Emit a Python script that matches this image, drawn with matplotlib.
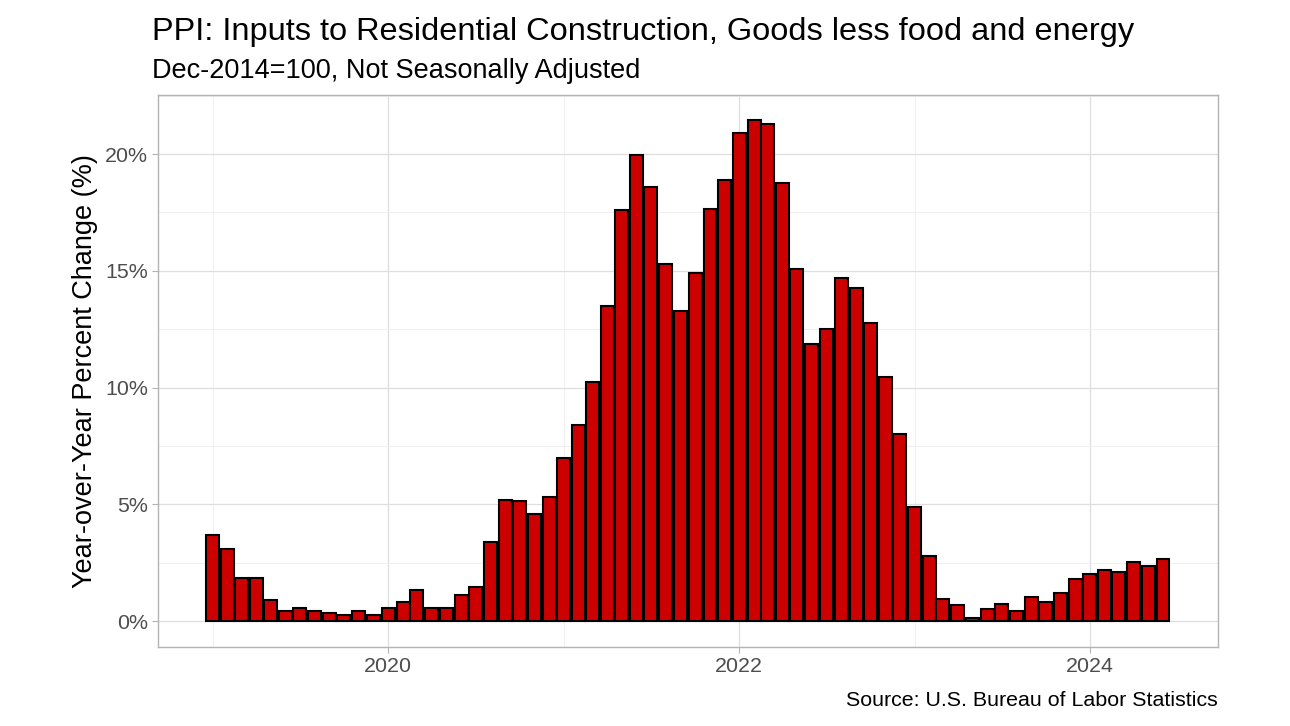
import pandas as pd
import numpy as np
import matplotlib
matplotlib.use("Agg")
import matplotlib.pyplot as plt
import matplotlib.dates as mdates
from matplotlib.ticker import MultipleLocator, FuncFormatter

plt.rcParams['font.family'] = ['Liberation Sans', 'DejaVu Sans']

# monthly year-over-year % change, Jan 2019 .. Jun 2024
months = pd.date_range("2019-01-01", "2024-06-01", freq="MS")
yoy = [3.7, 3.1, 1.85, 1.85, 0.9, 0.45, 0.55, 0.45, 0.35, 0.25, 0.45, 0.25,
       0.55, 0.8, 1.35, 0.55, 0.55, 1.1, 1.45, 3.4, 5.2, 5.15, 4.6, 5.3,
       7.0, 8.4, 10.25, 13.5, 17.6, 19.95, 18.6, 15.3, 13.3, 14.9, 17.65, 18.9,
       20.9, 21.45, 21.3, 18.75, 15.1, 11.85, 12.5, 14.7, 14.25, 12.75, 10.45, 8.0,
       4.9, 2.8, 0.95, 0.7, 0.15, 0.5, 0.75, 0.45, 1.05, 0.8, 1.2, 1.8,
       2.0, 2.2, 2.1, 2.55, 2.35, 2.65]

title = "PPI: Inputs to Residential Construction, Goods less food and energy"
subtitle = "Dec-2014=100, Not Seasonally Adjusted"
ylab = "Year-over-Year Percent Change (%)"
source = "Source: U.S. Bureau of Labor Statistics"

base = 19.5

fig = plt.figure(figsize=(12.9, 7.26), dpi=100)
ax = fig.add_axes([0.1225, 0.1088, 0.8215, 0.7603])

ax.bar(months, yoy, width=27, color="#CD0000", edgecolor="black", linewidth=1.5, zorder=3)

ax.set_xlim(pd.Timestamp("2018-09-09"), pd.Timestamp("2024-09-23"))
ax.set_ylim(-1.11, 22.53)

ax.xaxis.set_major_locator(mdates.YearLocator(2))
ax.xaxis.set_major_formatter(mdates.DateFormatter("%Y"))
ax.xaxis.set_minor_locator(mdates.YearLocator(1))
ax.yaxis.set_major_locator(MultipleLocator(5))
ax.yaxis.set_minor_locator(MultipleLocator(2.5))
ax.yaxis.set_major_formatter(FuncFormatter(lambda v, p: "%d%%" % v))

ax.grid(which="major", color="#dedede", linewidth=0.9, zorder=0)
ax.grid(which="minor", color="#ededed", linewidth=0.6, zorder=0)
for s in ax.spines.values():
    s.set_color("#b3b3b3")
    s.set_linewidth(1.0)
ax.tick_params(which="major", colors="#b3b3b3", labelcolor="#4d4d4d",
               labelsize=base * 0.79, length=4, pad=3)
ax.tick_params(which="minor", length=0)

fig.text(0.0659, 0.489, ylab, fontsize=base, rotation=90, ha="center", va="center")
fig.text(0.1178, 0.9449, title, fontsize=base * 1.2, va="baseline", ha="left")
fig.text(0.1178, 0.8926, subtitle, fontsize=base, va="baseline", ha="left")
fig.text(0.944, 0.0275, source, fontsize=base * 0.79, va="baseline", ha="right")

fig.savefig("out.png", dpi=100)
